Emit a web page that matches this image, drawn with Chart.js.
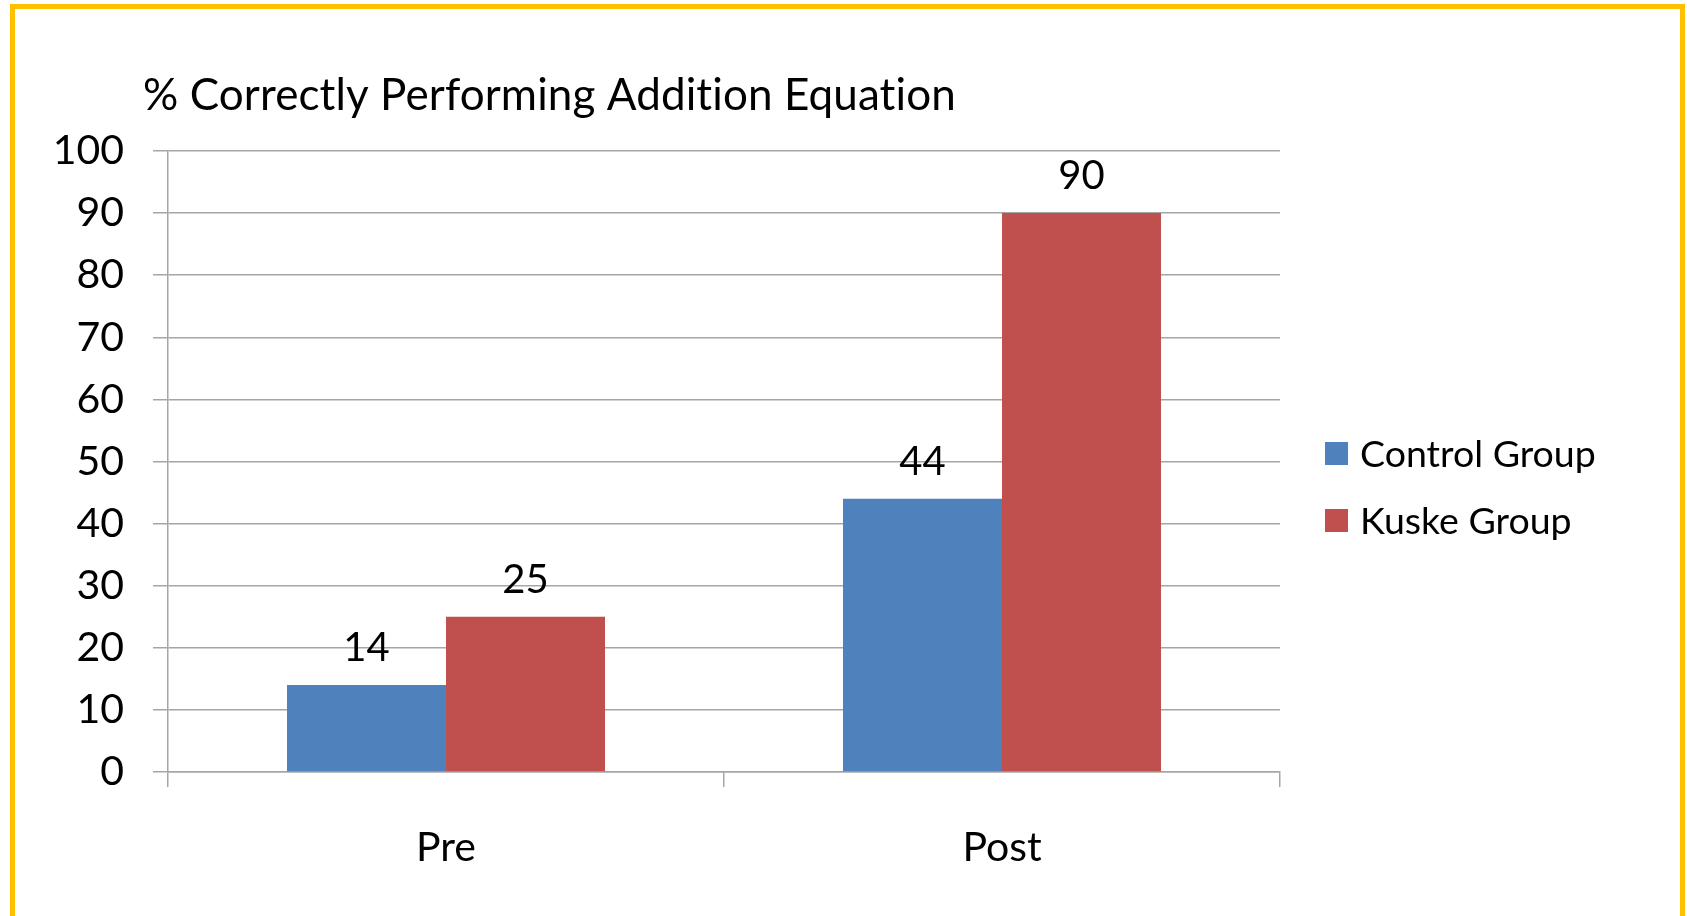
<!DOCTYPE html>
<html>
<head>
<meta charset="utf-8">
<script src="https://cdn.jsdelivr.net/npm/chart.js@4.4.0/dist/chart.umd.min.js"></script>
<style>
	html, body { margin: 0; padding: 0; background: #fff; overflow: hidden; }
	#frame { position: absolute; left: 10px; top: 4px; width: 1675px; height: 1000px; border: 5px solid #FFC000; box-sizing: border-box; }
	#chart { position: absolute; left: 0; top: 0; }
</style>
</head>
<body>
<div id="frame"></div>
<canvas id="chart" width="1687" height="916"></canvas>
<script>
// 데이터
const categories = ['Pre', 'Post'];
const seriesNames = ['Control Group', 'Kuske Group'];
const controlValues = [14, 44];
const kuskeValues = [25, 90];
const yTicks = [0, 10, 20, 30, 40, 50, 60, 70, 80, 90, 100];
const chartTitle = '% Correctly Performing Addition Equation';

const FONT = 'Lato';
const GRID = '#A6A6A6';

// 제목 + 범례 + 값 라벨
const decorPlugin = {
	id: 'decor',
	afterDatasetsDraw(chart) {
		const ctx = chart.ctx;
		ctx.save();
		ctx.fillStyle = '#000';
		ctx.textAlign = 'center';
		ctx.textBaseline = 'alphabetic';
		ctx.font = '40px ' + FONT;
		chart.data.datasets.forEach(function (ds, i) {
			const meta = chart.getDatasetMeta(i);
			meta.data.forEach(function (bar, j) {
				ctx.fillText(String(ds.data[j]), bar.x, bar.y - 24);
			});
		});
		ctx.restore();
	},
	afterDraw(chart) {
		const ctx = chart.ctx;
		ctx.save();
		// 제목 (ti 합자 방지)
		ctx.fillStyle = '#000';
		ctx.textAlign = 'left';
		ctx.textBaseline = 'alphabetic';
		ctx.font = '44px ' + FONT;
		if ('textRendering' in ctx) ctx.textRendering = 'optimizeSpeed';
		if ('letterSpacing' in ctx) ctx.letterSpacing = '0.1px';
		ctx.fillText(chartTitle, 143, 110);
		if ('letterSpacing' in ctx) ctx.letterSpacing = '0px';
		// 범례
		ctx.font = '37.5px ' + FONT;
		ctx.textBaseline = 'middle';
		chart.data.datasets.forEach(function (ds, i) {
			const cy = 453 + i * 67;
			ctx.fillStyle = ds.backgroundColor;
			ctx.fillRect(1325, cy - 11, 23, 23);
			ctx.fillStyle = '#000';
			ctx.fillText(ds.label, 1360, cy + 2);
		});
		ctx.restore();
	}
};

const ctx = document.getElementById('chart').getContext('2d');
const chart = new Chart(ctx, {
	type: 'bar',
	data: {
		labels: categories,
		datasets: [
			{
				label: seriesNames[0],
				data: controlValues,
				backgroundColor: '#4F81BD',
				categoryPercentage: 0.572,
				barPercentage: 1.0
			},
			{
				label: seriesNames[1],
				data: kuskeValues,
				backgroundColor: '#C0504D',
				categoryPercentage: 0.572,
				barPercentage: 1.0
			}
		]
	},
	options: {
		responsive: false,
		animation: false,
		devicePixelRatio: 1,
		layout: {
			padding: { left: 0, top: 151, right: 407, bottom: 0 }
		},
		plugins: {
			legend: { display: false },
			tooltip: { enabled: false }
		},
		scales: {
			x: {
				grid: {
					offset: true,
					drawOnChartArea: false,
					drawTicks: true,
					tickLength: 15,
					color: GRID,
					lineWidth: 1.5
				},
				border: { color: GRID, width: 1.5 },
				ticks: {
					color: '#000',
					font: { family: FONT, size: 41 },
					padding: 36
				},
				afterFit: function (scale) {
					scale.height = 916 - 772;
				}
			},
			y: {
				min: 0,
				max: 100,
				afterBuildTicks: function (scale) {
					scale.ticks = yTicks.map(function (v) { return { value: v }; });
				},
				grid: {
					color: GRID,
					lineWidth: 1.5,
					tickLength: 15
				},
				border: { color: GRID, width: 1.5 },
				ticks: {
					color: '#000',
					font: { family: FONT, size: 41 },
					padding: 29
				},
				afterFit: function (scale) {
					scale.width = 168;
				}
			}
		}
	},
	plugins: [decorPlugin]
});
</script>
</body>
</html>
